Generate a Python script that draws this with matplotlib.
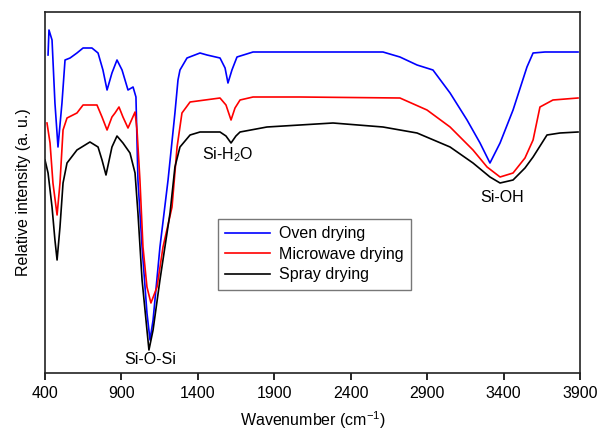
import matplotlib
matplotlib.use("Agg")
import matplotlib.pyplot as plt
from matplotlib.ticker import NullLocator

plt.rcParams['font.family'] = ['Liberation Sans', 'DejaVu Sans']

# Wavenumbers (cm-1) and relative intensity (a.u.)
oven_wn = [420, 426, 446, 465, 485, 511, 531, 564, 609, 649, 707, 747, 779, 806, 838,
           871, 904, 943, 976, 995, 1008, 1035, 1067, 1087, 1107, 1152, 1205, 1250,
           1270, 1283, 1329, 1414, 1460, 1545, 1578, 1597, 1623, 1656, 1761, 2068,
           2611, 2722, 2834, 2938, 3050, 3161, 3246, 3311, 3377, 3462, 3553, 3593,
           3671, 3887]
oven_i = [318, 343, 333, 270, 226, 270, 313, 315, 320, 325, 325, 320, 303, 283, 300,
          313, 303, 283, 286, 276, 193, 126, 60, 33, 53, 126, 193, 260,
          293, 303, 315, 320, 318, 315, 305, 290, 303, 316, 321, 321,
          321, 316, 308, 303, 280, 253, 230, 210, 230, 263, 306, 320,
          321, 321]

micro_wn = [413, 433, 452, 479, 498, 518, 544, 609, 649, 740, 773, 806, 838, 858, 884,
            910, 943, 989, 1002, 1021, 1041, 1067, 1093, 1133, 1172, 1231, 1264, 1296,
            1349, 1545, 1584, 1617, 1643, 1676, 1761, 2068, 2722, 2899, 3050, 3200,
            3292, 3377, 3462, 3540, 3593, 3638, 3723, 3887]
micro_i = [250, 230, 190, 158, 190, 243, 255, 260, 268, 268, 256, 243, 256, 260, 266,
           256, 245, 261, 243, 193, 126, 86, 70, 86, 126, 166, 226, 260,
           271, 275, 268, 253, 265, 273, 276, 276, 275, 263, 246, 223,
           206, 196, 200, 215, 233, 266, 273, 275]

spray_wn = [400, 420, 446, 465, 479, 498, 518, 544, 609, 694, 747, 773, 799, 838, 871,
            910, 956, 989, 1008, 1035, 1067, 1080, 1107, 1152, 1218, 1250, 1283, 1349,
            1414, 1545, 1584, 1617, 1649, 1676, 1852, 2068, 2284, 2611, 2834, 3050,
            3200, 3311, 3377, 3462, 3540, 3593, 3684, 3769, 3887]
spray_i = [213, 200, 166, 133, 113, 146, 190, 210, 223, 231, 226, 213, 198, 226, 237,
           230, 220, 200, 160, 93, 43, 23, 43, 93, 160, 206, 226, 238,
           241, 241, 237, 230, 237, 241, 246, 248, 250, 246, 240, 226,
           210, 196, 190, 193, 205, 216, 238, 240, 241]

labels = ['Oven drying', 'Microwave drying', 'Spray drying']
xticks = [400, 900, 1400, 1900, 2400, 2900, 3400, 3900]

fig = plt.figure(figsize=(6.03, 4.29), dpi=100)
ax = fig.add_axes([45/603, 1-373/429, 535/603, 361/429])

ax.plot(oven_wn, oven_i, color='#0000ff', lw=1.2, label=labels[0])
ax.plot(micro_wn, micro_i, color='#ff0000', lw=1.2, label=labels[1])
ax.plot(spray_wn, spray_i, color='black', lw=1.2, label=labels[2])

ax.set_xlim(400, 3900)
ax.set_ylim(0, 361)
ax.set_xticks(xticks)
ax.set_xticklabels([str(t) for t in xticks])
ax.yaxis.set_major_locator(NullLocator())
ax.tick_params(axis='x', direction='out', length=5, width=1.2, labelsize=11.5, pad=4)
for s in ax.spines.values():
    s.set_linewidth(1.2)
    s.set_color('#222222')

ax.set_xlabel('Wavenumber (cm$^{\\mathregular{-1}}$)', fontsize=11.5, labelpad=6)
ax.set_ylabel('Relative intensity (a. u.)', fontsize=11.5, labelpad=10)

ax.text(1087, 14, 'Si-O-Si', ha='center', va='center', fontsize=11.5)
ax.text(1597, 218, 'Si-H$_\\mathregular{2}$O', ha='center', va='center', fontsize=11.5)
ax.text(3390, 176, 'Si-OH', ha='center', va='center', fontsize=11.5)

leg = ax.legend(loc='upper left', bbox_to_anchor=(218/603, 1-219/429),
                bbox_transform=fig.transFigure, fontsize=11.5, frameon=True,
                fancybox=False, edgecolor='#555555', borderaxespad=0,
                handlelength=2.8, handletextpad=0.6, labelspacing=0.35,
                borderpad=0.45)
leg.get_frame().set_linewidth(1.0)

fig.savefig('out.png', dpi=100)
